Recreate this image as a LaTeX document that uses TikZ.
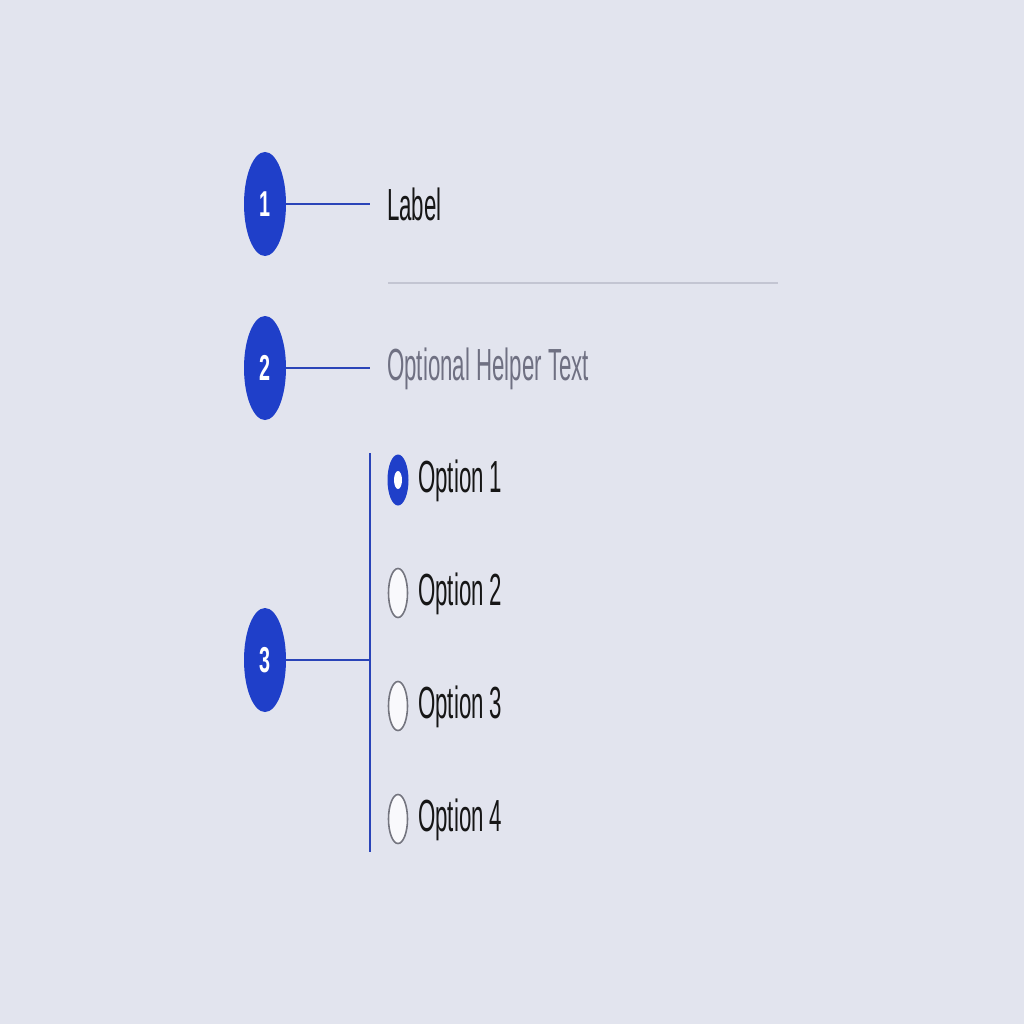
\documentclass[tikz,border=0pt]{standalone}
\usepackage{fontspec}
\setmainfont{Liberation Sans}
\usetikzlibrary{shapes.geometric}
\definecolor{bg}{HTML}{E2E4EE}
\definecolor{badge}{HTML}{1F3FC9}
\definecolor{wire}{HTML}{2A44B8}
\definecolor{ink}{HTML}{161616}
\definecolor{helper}{HTML}{6F7082}
\definecolor{rule}{HTML}{C3C5D2}
\definecolor{ring}{HTML}{74757F}
\definecolor{radiofill}{HTML}{F9F9FC}
\tikzset{
  badgenode/.style={ellipse, fill=badge, minimum width=42pt, minimum height=104pt, inner sep=0pt, text=white, font=\fontsize{36}{36}\selectfont\bfseries},
  wireline/.style={draw=wire, line width=2pt},
  textnode/.style={anchor=west, inner sep=0pt, text=ink, font=\fontsize{45}{45}\selectfont},
  radioon/.style={ellipse, fill=badge, minimum width=21pt, minimum height=51pt, inner sep=0pt},
  radiodot/.style={ellipse, fill=white, minimum width=8pt, minimum height=18pt, inner sep=0pt},
  radiooff/.style={ellipse, fill=radiofill, draw=ring, line width=1.6pt, minimum width=19pt, minimum height=49pt, inner sep=0pt},
}
\newcommand{\sq}[1]{\scalebox{0.495}[1]{#1}}
\begin{document}
\begin{tikzpicture}[x=1pt,y=-1pt]
\fill[bg] (0,0) rectangle (1024,1024);
\useasboundingbox (0,0) rectangle (1024,1024);
% badges
\node[badgenode] (b1) at (265,204) {\scalebox{0.55}[1]{1}};
\node[badgenode] (b2) at (265,368) {\scalebox{0.55}[1]{2}};
\node[badgenode] (b3) at (265,660) {\scalebox{0.55}[1]{3}};
% connector ends
\coordinate (c1) at (370,204);
\coordinate (c2) at (370,368);
\coordinate (c3) at (370,660);
\coordinate (vtop) at (370,453);
\coordinate (vbot) at (370,852);
\draw[wireline] (b1.east) -- (c1);
\draw[wireline] (b2.east) -- (c2);
\draw[wireline] (b3.east) -- (c3);
\draw[draw=wire, line width=1.6pt] (vtop) -- (vbot);
% label and divider
\node[textnode] (label) at (387,204) {\sq{Label}};
\coordinate (r1) at (388,283);
\coordinate (r2) at (778,283);
\draw[draw=rule, line width=2.2pt] (r1) -- (r2);
\node[textnode, text=helper] (helper) at (387,369) {\sq{Optional Helper Text}};
% radios
\node[radioon] (o1) at (398,480) {};
\node[radiodot] (o1dot) at (o1.center) {};
\node[radiooff] (o2) at (398,593) {};
\node[radiooff] (o3) at (398,706) {};
\node[radiooff] (o4) at (398,819) {};
\node[textnode] (t1) at (418,481) {\sq{Option 1}};
\node[textnode] (t2) at (418,594) {\sq{Option 2}};
\node[textnode] (t3) at (418,707) {\sq{Option 3}};
\node[textnode] (t4) at (418,820) {\sq{Option 4}};
\end{tikzpicture}
\end{document}
